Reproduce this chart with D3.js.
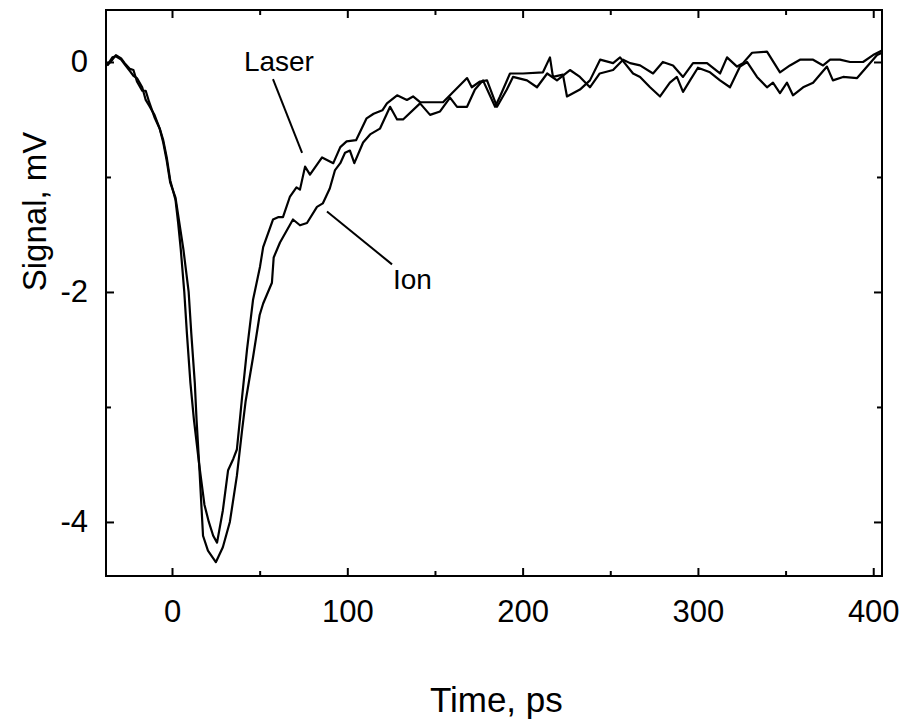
<!DOCTYPE html>
<html>
<head>
<meta charset="utf-8">
<script src="https://cdn.jsdelivr.net/npm/d3@7"></script>
<style>
  html, body { margin: 0; padding: 0; background: #fff; }
  svg { display: block; }
  text { font-family: Arial, "Liberation Sans", Helvetica, sans-serif; fill: #000; }
</style>
</head>
<body>
<svg id="chart" width="908" height="727"></svg>
<script>
// ---- data ----
const laserTime = [-37,-34,-32,-29,-27,-24,-22,-20,-17,-15,-13,-10,-7,-5,-3,-1,2,3.5,5,7,8.5,10.5,12.5,15.5,18.5,21,23.5,25.7,29,32,35,37,38.8,40,42.8,46.2,50.2,52,57.6,60.5,63.3,67.3,71,73,75.9,78.7,85.6,92,96,99.6,105,111,115,120,122.6,128.4,134,137.5,141.5,154.6,168.3,171,175.7,179.7,185.4,191,194.5,202.5,208.2,214,219.6,227,232.7,238.4,244,251.6,257.3,261.3,267,274.4,280,285.8,291.5,297.2,305.2,312.6,316.6,322.3,325.7,330.9,339.4,346.8,352.5,358.2,365.7,371.4,375.4,381,386.8,394.2,399.9,405];
const laserSignal = [-0.03,0.02,0.06,0.03,-0.01,-0.06,-0.07,-0.17,-0.25,-0.25,-0.35,-0.48,-0.58,-0.68,-0.83,-1.03,-1.2,-1.4,-1.63,-2.0,-2.36,-2.79,-3.11,-3.5,-3.85,-4.0,-4.12,-4.18,-3.9,-3.55,-3.45,-3.37,-3.1,-2.91,-2.5,-2.07,-1.78,-1.61,-1.37,-1.35,-1.35,-1.17,-1.09,-1.11,-0.91,-0.98,-0.83,-0.88,-0.74,-0.69,-0.68,-0.49,-0.45,-0.42,-0.36,-0.29,-0.33,-0.30,-0.35,-0.35,-0.14,-0.22,-0.17,-0.16,-0.39,-0.24,-0.13,-0.16,-0.22,-0.10,-0.16,-0.07,-0.13,-0.22,-0.10,-0.07,0.02,-0.01,-0.03,-0.10,0.0,-0.03,-0.13,-0.01,-0.01,-0.10,0.04,-0.04,-0.01,0.08,0.09,-0.09,-0.03,0.02,0.02,-0.03,0.02,0.02,0.0,0.0,0.06,0.10];

const ionTime = [-37,-34,-32,-29,-27,-24,-22,-20,-17,-15,-13,-10,-7,-5,-3,-1,2,4,6.5,9.5,11,13,14,15.5,17.7,20.5,25,29,33,37,40,42,46.2,50,52,57,58,61.6,69,73,77,82.7,86,90,93,96,98.7,101.5,104,109,113,118.6,124.4,128.4,131.8,141.5,147.2,152.9,158.6,162.6,168.3,172.8,177.4,184.3,187.1,192.8,200.2,211.6,215.6,217.3,223,225.3,232.7,238.4,244.2,251.6,255.6,263,267,272.7,278.4,284,288,291.5,295.5,300,306.9,312.6,318.3,324,328,333.7,339.4,342.8,346.8,350.8,354.2,360,365.7,373.6,377,382.8,390.8,396.5,402.2,405];
const ionSignal = [-0.03,0.04,0.05,0.02,-0.02,-0.08,-0.12,-0.14,-0.22,-0.33,-0.38,-0.46,-0.58,-0.70,-0.86,-1.05,-1.18,-1.38,-1.63,-2.0,-2.36,-2.79,-3.11,-3.5,-4.12,-4.25,-4.35,-4.22,-4.0,-3.6,-3.2,-2.95,-2.57,-2.2,-2.1,-1.92,-1.7,-1.57,-1.37,-1.42,-1.40,-1.26,-1.23,-1.10,-0.94,-0.88,-0.79,-0.77,-0.88,-0.70,-0.63,-0.58,-0.39,-0.50,-0.50,-0.36,-0.46,-0.43,-0.31,-0.39,-0.39,-0.24,-0.16,-0.39,-0.30,-0.10,-0.10,-0.09,0.04,-0.13,-0.11,-0.30,-0.24,-0.16,0.02,-0.01,0.04,-0.10,-0.13,-0.22,-0.30,-0.18,-0.13,-0.26,-0.16,-0.05,-0.09,-0.16,-0.22,-0.04,0.0,-0.13,-0.22,-0.18,-0.27,-0.18,-0.29,-0.22,-0.18,-0.04,-0.16,-0.13,-0.14,-0.04,0.06,0.08];

const xTickLabels = [0, 100, 200, 300, 400];
const xMinorTicks = [50, 150, 250, 350];
const yTickLabels = [0, -2, -4];
const yMinorTicks = [-1, -3];

const annotations = [
  { text: "Laser", tx: 41, ty: -0.08, x1: 57.6, y1: -0.15, x2: 74.2, y2: -0.79 },
  { text: "Ion", tx: 126, ty: -1.97, x1: 88.4, y1: -1.30, x2: 125.5, y2: -1.76 }
];

// ---- layout ----
const svg = d3.select("#chart");
const margin = { left: 106, top: 10, right: 26, bottom: 151 };
const W = 908 - margin.left - margin.right;
const H = 727 - margin.top - margin.bottom;

const x = d3.scaleLinear().domain([-37.65, 405]).range([0, W]);
const y = d3.scaleLinear().domain([-4.47, 0.452]).range([H, 0]);

const g = svg.append("g").attr("transform", `translate(${margin.left},${margin.top})`);

g.append("defs").append("clipPath").attr("id", "clip")
  .append("rect").attr("width", W).attr("height", H);

// curves
const line = d3.line().x(d => x(d[0])).y(d => y(d[1]));
const laser = laserTime.map((t, i) => [t, laserSignal[i]]);
const ion = ionTime.map((t, i) => [t, ionSignal[i]]);

const curves = g.append("g").attr("clip-path", "url(#clip)");
[ion, laser].forEach(data => {
  curves.append("path").datum(data)
    .attr("d", line)
    .attr("fill", "none")
    .attr("stroke", "#000")
    .attr("stroke-width", 2.2)
    .attr("stroke-linejoin", "round");
});

// axes (inward ticks on all four sides)
const fontSize = 31;
const fmt = d => String(d); // plain hyphen-minus as in the original
function styleAxis(sel) {
  sel.select(".domain").remove();
  sel.selectAll(".tick line").attr("stroke", "#000").attr("stroke-width", 2);
}
function styleText(sel) {
  sel.selectAll("text").attr("font-size", fontSize)
    .attr("font-family", "Arial, 'Liberation Sans', sans-serif").attr("fill", "#000");
}
// bottom
g.append("g").attr("transform", `translate(0,${H})`)
  .call(d3.axisBottom(x).tickValues(xTickLabels).tickSizeInner(-8).tickSizeOuter(0).tickPadding(24).tickFormat(fmt))
  .call(styleAxis).call(styleText);
g.append("g").attr("transform", `translate(0,${H})`)
  .call(d3.axisBottom(x).tickValues(xMinorTicks).tickSize(-5).tickFormat(""))
  .call(styleAxis);
// top
g.append("g")
  .call(d3.axisTop(x).tickValues(xTickLabels).tickSize(-8).tickFormat(""))
  .call(styleAxis);
g.append("g")
  .call(d3.axisTop(x).tickValues(xMinorTicks).tickSize(-5).tickFormat(""))
  .call(styleAxis);
// left
g.append("g")
  .call(d3.axisLeft(y).tickValues(yTickLabels).tickSizeInner(-8).tickSizeOuter(0).tickPadding(18).tickFormat(fmt))
  .call(styleAxis).call(styleText);
g.append("g")
  .call(d3.axisLeft(y).tickValues(yMinorTicks).tickSize(-5).tickFormat(""))
  .call(styleAxis);
// right
g.append("g").attr("transform", `translate(${W},0)`)
  .call(d3.axisRight(y).tickValues(yTickLabels).tickSize(-8).tickFormat(""))
  .call(styleAxis);
g.append("g").attr("transform", `translate(${W},0)`)
  .call(d3.axisRight(y).tickValues(yMinorTicks).tickSize(-5).tickFormat(""))
  .call(styleAxis);

// frame
g.append("rect").attr("width", W).attr("height", H)
  .attr("fill", "none").attr("stroke", "#000").attr("stroke-width", 2);

// annotations
annotations.forEach(a => {
  g.append("line")
    .attr("x1", x(a.x1)).attr("y1", y(a.y1))
    .attr("x2", x(a.x2)).attr("y2", y(a.y2))
    .attr("stroke", "#000").attr("stroke-width", 2);
  g.append("text")
    .attr("x", x(a.tx)).attr("y", y(a.ty))
    .attr("font-size", 28)
    .text(a.text);
});

// axis titles
svg.append("text")
  .attr("x", margin.left + x(185)).attr("y", 712)
  .attr("text-anchor", "middle")
  .attr("font-size", 35)
  .text("Time, ps");

svg.append("text")
  .attr("transform", `translate(46,${margin.top + y(-1.3)}) rotate(-90)`)
  .attr("text-anchor", "middle")
  .attr("font-size", 33)
  .text("Signal, mV");
</script>
</body>
</html>
